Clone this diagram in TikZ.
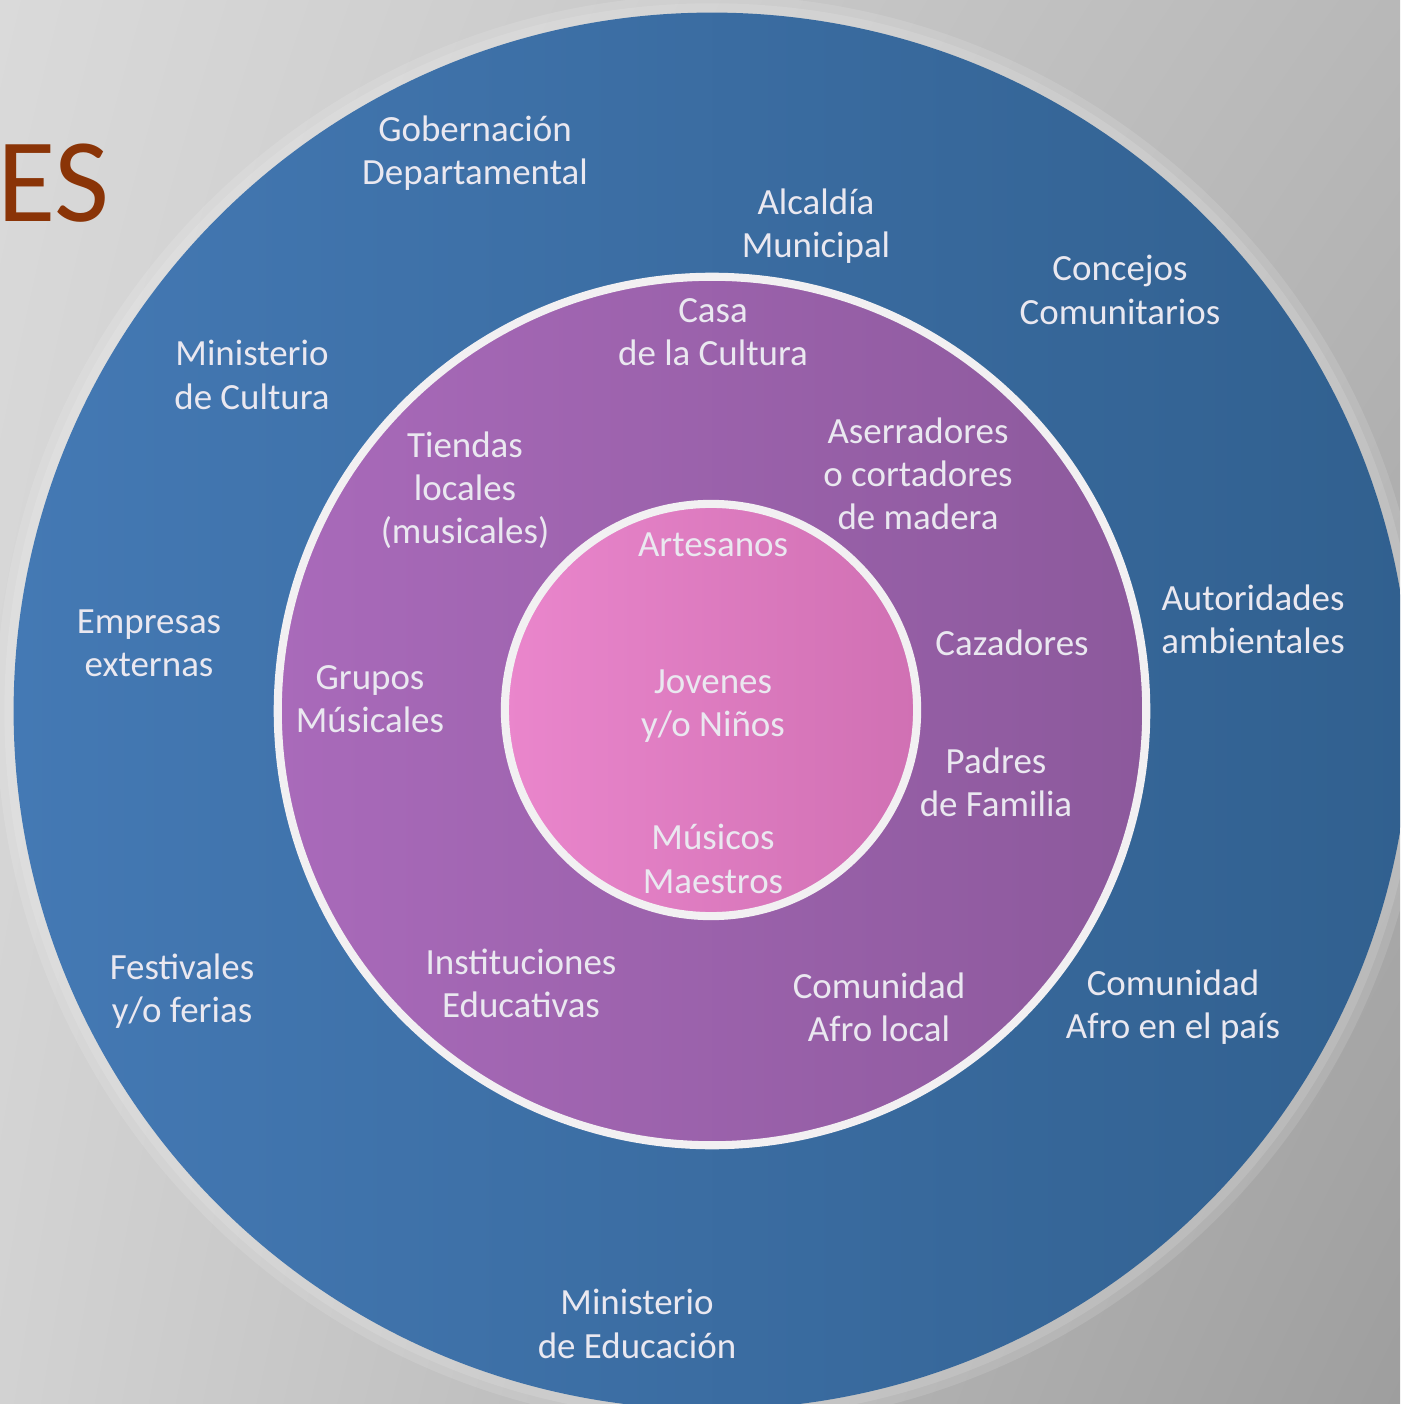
\documentclass[tikz,border=0pt]{standalone}
\usepackage{fontspec}
\setmainfont{Carlito}
\usetikzlibrary{shadings}
\begin{document}
\begin{tikzpicture}[x=0.01cm,y=-0.01cm,
  lbl/.style={text=txtc, align=center, inner sep=0pt, font=\fontsize{10.5}{12.3}\selectfont},
  ring/.style={draw=ringc, line width=2.3pt}]
\definecolor{bgTL}{HTML}{DADADA}
\definecolor{bgTR}{HTML}{B8B8B8}
\definecolor{bgBL}{HTML}{D2D2D2}
\definecolor{bgBR}{HTML}{9E9E9E}
\definecolor{blueL}{HTML}{4479B4}
\definecolor{blueR}{HTML}{31608F}
\definecolor{purpL}{HTML}{A96ABA}
\definecolor{purpR}{HTML}{8C599C}
\definecolor{pinkL}{HTML}{EA86CC}
\definecolor{pinkR}{HTML}{D070B3}
\definecolor{txtc}{HTML}{EAE8F0}
\definecolor{ringc}{HTML}{F2F0F2}
\definecolor{esc}{HTML}{8A3407}
\clip (0,0) rectangle (1400,1404);
\useasboundingbox (0,0) rectangle (1400,1404);
% background
\shade[upper left=bgTL, upper right=bgTR, lower left=bgBL, lower right=bgBR] (0,0) rectangle (1400,1404);
% glow
\draw[white, opacity=0.12, line width=6pt] (712,711) circle[radius=7.05cm];
\draw[white, opacity=0.12, line width=3pt] (712,711) circle[radius=7.02cm];
% outer circle
\shade[left color=blueL, right color=blueR] (712,711) circle[radius=6.98cm];
% middle circle
\shade[left color=purpL, right color=purpR] (712,711) circle[radius=4.34cm];
\draw[ring] (712,711) circle[radius=4.34cm];
% inner circle
\shade[left color=pinkL, right color=pinkR] (711,710) circle[radius=2.06cm];
\draw[ring] (711,710) circle[radius=2.06cm];
% title fragment
\node[anchor=base west, inner sep=0pt, text=esc, font=\fontsize{34}{34}\selectfont] (es) at (-3,222) {ES};
% outer ring labels
\node[lbl] (gob) at (475,153) {Gobernación\\Departamental};
\node[lbl] (alc) at (816,226) {Alcaldía\\Municipal};
\node[lbl] (con) at (1120,290) {Concejos\\Comunitarios};
\node[lbl] (minc) at (252,375) {Ministerio\\de Cultura};
\node[lbl] (emp) at (149,643) {Empresas\\externas};
\node[lbl] (aut) at (1253,619) {Autoridades\\ambientales};
\node[lbl] (fes) at (182,991) {Festivales\\y/o ferias};
\node[lbl] (cafp) at (1173,1007) {Comunidad\\Afro en el país};
\node[lbl] (mine) at (637,1324) {Ministerio\\de Educación};
% middle ring labels
\node[lbl] (casa) at (713,332) {Casa\\de la Cultura};
\node[lbl] (tie) at (465,490) {Tiendas\\locales\\(musicales)};
\node[lbl] (ase) at (918,474) {Aserradores\\o cortadores\\de madera};
\node[lbl] (caz) at (1012,643) {Cazadores};
\node[lbl] (gru) at (370,699) {Grupos\\Músicales};
\node[lbl] (pad) at (996,782) {Padres\\de Familia};
\node[lbl] (ins) at (521,983) {Instituciones\\Educativas};
\node[lbl] (cafl) at (879,1007) {Comunidad\\Afro local};
% inner circle labels
\node[lbl] (art) at (713,545) {Artesanos};
\node[lbl] (jov) at (713,706) {Jovenes\\y/o Niños};
\node[lbl] (mus) at (713,859) {Músicos\\Maestros};
\end{tikzpicture}
\end{document}
